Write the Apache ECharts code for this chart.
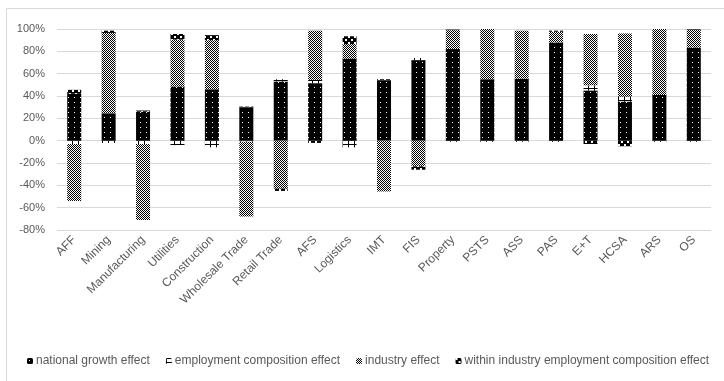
<!DOCTYPE html>
<html>
<head>
<meta charset="utf-8">
<script src="https://cdn.jsdelivr.net/npm/echarts@6/dist/echarts.min.js"></script>
<style>
    html, body {margin: 0; padding: 0; background: #fff;}
    #chart {width: 724px; height: 381px;}
</style>
</head>
<body>
<div id="chart"></div>
<script>
// 行业分类
var categories = ['AFF', 'Mining', 'Manufacturing', 'Utilities', 'Construction', 'Wholesale Trade', 'Retail Trade',
    'AFS', 'Logistics', 'IMT', 'FIS', 'Property', 'PSTS', 'ASS', 'PAS', 'E+T', 'HCSA', 'ARS', 'OS'];

// 四个分量 (%)
var nationalGrowth = [42, 24.5, 26, 48.5, 46, 29.5, 53, 51.5, 73.5, 54, 72, 82, 55, 55.5, 88, 45, 35, 41, 83.5];
var employmentComp = [-3, -2, -3, -4, -6, -1, 2, 3, -6, 0, 2, -1, -1, -1, -1, 4.5, 4.5, -1, -1];
var industryEffect = [-51, 72, -68, 42, 44, -67, -43, 44, 13, -45.5, -23, 17, 45.5, 43, 9.5, 46, 56.5, 60, 16];
var withinIndustry = [3.5, 2, 1, 5, 4.5, 1, -2, -2, 7, 1, -3, 0.5, 0, 0, 1, -3, -5, 0, 1];

var yTicks = [-80, -60, -40, -20, 0, 20, 40, 60, 80, 100];

(function () {
    var chart = echarts.init(document.getElementById('chart'));

    var font = 'Liberation Sans';
    var gray = '#595959';

    // 用小画布做图案填充
    function tile(w, h, bg, fg, cells) {
        var c = document.createElement('canvas');
        c.width = w;
        c.height = h;
        var ctx = c.getContext('2d');
        ctx.fillStyle = bg;
        ctx.fillRect(0, 0, w, h);
        ctx.fillStyle = fg;
        for (var i = 0; i < cells.length; i++) {
            ctx.fillRect(cells[i][0], cells[i][1], cells[i][2], cells[i][3]);
        }
        return {image: c, repeat: 'repeat'};
    }

    var patterns = {
        // 黑底白点
        national: tile(6, 5, '#000', '#fff', [[2, 2, 1, 1]]),
        // 白底黑格线
        employment: tile(6, 4, '#fff', '#000', [[0, 0, 1, 4], [0, 0, 6, 1]]),
        // 细棋盘格
        industry: tile(2, 2, '#fff', '#000', [[0, 0, 1, 1], [1, 1, 1, 1]]),
        // 黑底白块
        within: tile(6, 6, '#000', '#fff', [[0, 0, 2, 2], [3, 3, 2, 2]])
    };

    function bar(name, data, fill) {
        return {
            name: name,
            type: 'bar',
            stack: 'total',
            barWidth: 14,
            data: data,
            itemStyle: {color: fill},
            emphasis: {disabled: true}
        };
    }

    var option = {
        backgroundColor: '#fff',
        animation: false,
        graphic: [{
            type: 'rect',
            shape: {x: 6.5, y: 8.5, width: 800, height: 500},
            style: {fill: 'none', stroke: '#d9d9d9', lineWidth: 1},
            silent: true
        }],
        legend: {
            left: 22,
            top: 350,
            width: 702,
            itemWidth: 6,
            itemHeight: 6,
            itemGap: 16,
            textStyle: {fontFamily: font, fontSize: 12, color: gray, padding: [0, 0, 0, -2]},
            data: ['national growth effect', 'employment composition effect', 'industry effect',
                'within industry employment composition effect']
        },
        grid: {left: 57, right: 13, top: 29, bottom: 151, outerBoundsMode: 'none'},
        xAxis: {
            type: 'category',
            data: categories,
            axisLine: {show: false, onZero: false},
            axisTick: {show: false},
            axisLabel: {
                rotate: 45,
                margin: 8,
                interval: 0,
                fontFamily: font,
                fontSize: 12,
                color: gray
            }
        },
        yAxis: {
            type: 'value',
            min: -80,
            max: 100,
            interval: 20,
            axisLine: {show: false},
            axisTick: {show: false},
            splitLine: {lineStyle: {color: '#d9d9d9', width: 1}},
            axisLabel: {
                margin: 12,
                fontFamily: font,
                fontSize: 11,
                color: gray,
                formatter: function (v) {
                    return yTicks.indexOf(v) >= 0 ? v + '%' : '';
                }
            }
        },
        series: [
            bar('national growth effect', nationalGrowth, patterns.national),
            bar('employment composition effect', employmentComp, patterns.employment),
            bar('industry effect', industryEffect, patterns.industry),
            bar('within industry employment composition effect', withinIndustry, patterns.within)
        ]
    };

    chart.setOption(option);
})();
</script>
</body>
</html>
